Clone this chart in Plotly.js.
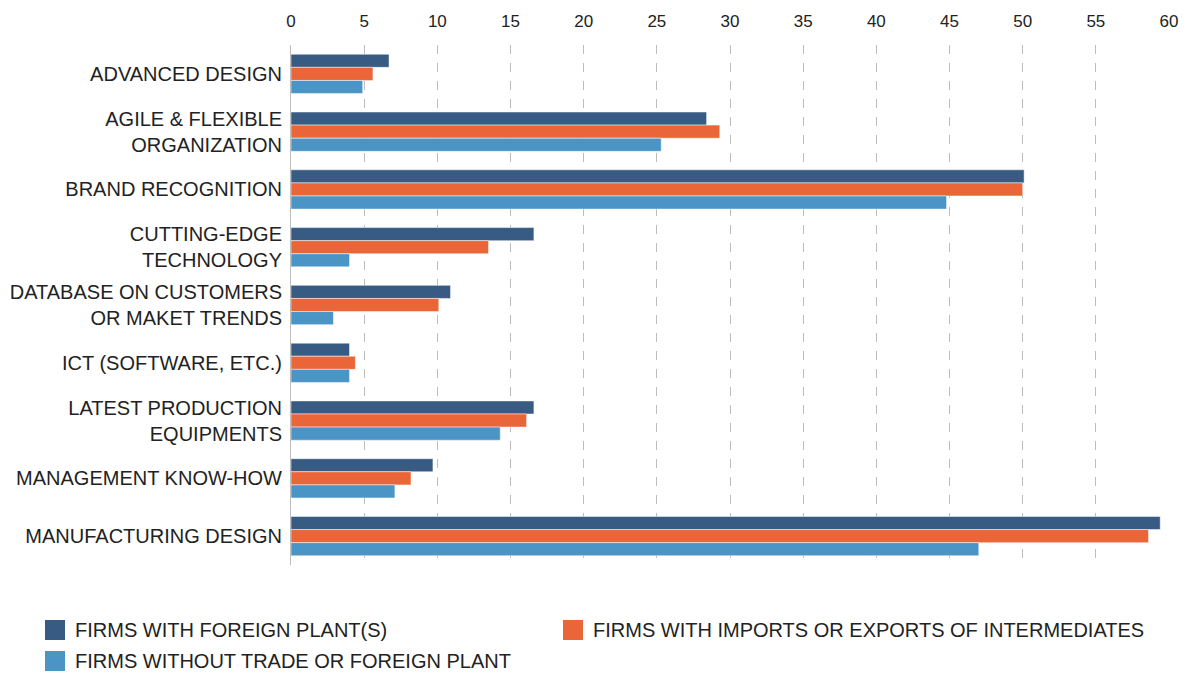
<!DOCTYPE html>
<html>
<head>
<meta charset="utf-8">
<script src="https://cdn.plot.ly/plotly-3.0.1.min.js"></script>
<style>
  html, body { margin: 0; padding: 0; background: #fff; }
  #chart { width: 1186px; height: 673px; }
</style>
</head>
<body>
<div id="chart"></div>
<script>
(function() {
  'use strict';

  // categories, top to bottom
  var categories = [
    'ADVANCED DESIGN',
    'AGILE &amp; FLEXIBLE<br>ORGANIZATION',
    'BRAND RECOGNITION',
    'CUTTING-EDGE<br>TECHNOLOGY',
    'DATABASE ON CUSTOMERS<br>OR MAKET TRENDS',
    'ICT (SOFTWARE, ETC.)',
    'LATEST PRODUCTION<br>EQUIPMENTS',
    'MANAGEMENT KNOW-HOW',
    'MANUFACTURING DESIGN'
  ];

  var seriesNames = [
    'FIRMS WITH FOREIGN PLANT(S)',
    'FIRMS WITH IMPORTS OR EXPORTS OF INTERMEDIATES',
    'FIRMS WITHOUT TRADE OR FOREIGN PLANT'
  ];

  var foreignPlant = [6.7, 28.4, 50.1, 16.6, 10.9, 4.0, 16.6, 9.7, 59.4];
  var importsExports = [5.6, 29.3, 50.0, 13.5, 10.1, 4.4, 16.1, 8.2, 58.6];
  var noTrade = [4.9, 25.3, 44.8, 4.0, 2.9, 4.0, 14.3, 7.1, 47.0];

  var xTicks = [0, 5, 10, 15, 20, 25, 30, 35, 40, 45, 50, 55, 60];

  var colors = ['#375B82', '#EA6538', '#4A94C6'];
  var values = [foreignPlant, importsExports, noTrade];

  var data = values.map(function(v, i) {
    return {
      type: 'bar',
      orientation: 'h',
      name: seriesNames[i],
      x: v,
      y: categories,
      marker: { color: colors[i], line: { color: '#ffffff', width: 0.5 } },
      hoverinfo: 'x+name'
    };
  });

  // hand-made legend: big squares like the original, offsets in pixels from the plot's bottom-left corner
  var legendSpots = [[-246, -65], [272, -65], [-246, -96]];
  var shapes = [];
  var annotations = [];
  legendSpots.forEach(function(p, i) {
    shapes.push({
      type: 'rect',
      xref: 'paper', yref: 'paper',
      xsizemode: 'pixel', ysizemode: 'pixel',
      xanchor: 0, yanchor: 0,
      x0: p[0], x1: p[0] + 20,
      y0: p[1] - 10, y1: p[1] + 10,
      fillcolor: colors[i],
      line: { width: 0 }
    });
    annotations.push({
      xref: 'paper', yref: 'paper',
      x: 0, y: 0,
      xshift: p[0] + 28, yshift: p[1],
      xanchor: 'left', yanchor: 'middle',
      showarrow: false,
      text: seriesNames[i],
      font: { size: 20, color: '#222222' }
    });
  });

  var layout = {
    width: 1186,
    height: 673,
    margin: { l: 291, r: 17, t: 45, b: 108 },
    paper_bgcolor: '#ffffff',
    plot_bgcolor: '#ffffff',
    font: { family: 'Liberation Sans, Arial, sans-serif', size: 18, color: '#222222' },
    barmode: 'group',
    bargap: 0.32,
    bargroupgap: 0,
    showlegend: false,
    xaxis: {
      side: 'top',
      range: [0, 60],
      tickvals: xTicks,
      ticks: '',
      ticklabelstandoff: 14,
      showgrid: true,
      gridcolor: '#bdbdbd',
      griddash: 'dash',
      gridwidth: 1,
      zeroline: false,
      showline: false,
      tickfont: { size: 17, color: '#222222' },
      fixedrange: true
    },
    yaxis: {
      autorange: 'reversed',
      showline: true,
      linecolor: '#bdbdbd',
      linewidth: 1,
      ticks: '',
      ticklabelstandoff: 4,
      showgrid: false,
      zeroline: false,
      tickfont: { size: 20, color: '#222222' },
      fixedrange: true
    },
    shapes: shapes,
    annotations: annotations
  };

  Plotly.newPlot('chart', data, layout, { displayModeBar: false, staticPlot: true });
}());
</script>
</body>
</html>
